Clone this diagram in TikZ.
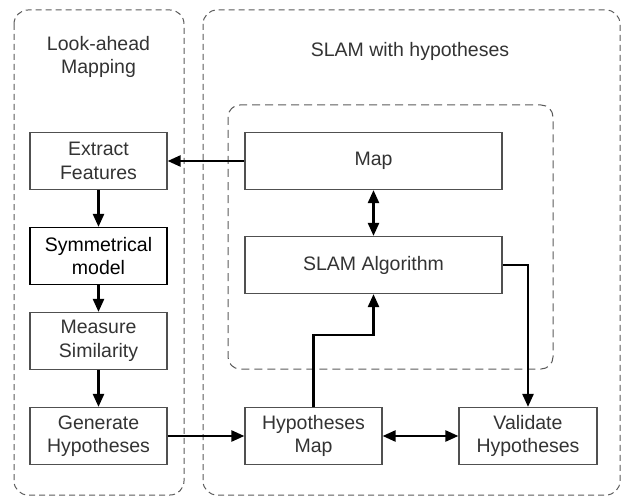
\documentclass[tikz,border=0pt]{standalone}
\usepackage[svgnames]{xcolor}
\usepackage{fontspec}
\setmainfont{Liberation Sans}
\usepackage{tikz}
\usetikzlibrary{arrows.meta}
\usetikzlibrary{positioning,calc}
\definecolor{boxgray}{HTML}{505050}
\definecolor{txtgray}{HTML}{333333}
\definecolor{dashgray}{HTML}{5A5A5A}
\tikzstyle{Block}=[rectangle,draw=boxgray,line width=1.2pt,text=txtgray,align=center,minimum width=137pt,minimum height=57pt,inner sep=0pt,font=\fontsize{19.5}{23.5}\selectfont]
\tikzset{flow/.style={-{Triangle[length=13pt,width=11pt]},line width=2.4pt,black},
  biflow/.style={{Triangle[length=13pt,width=11pt]}-{Triangle[length=13pt,width=11pt]},line width=2.4pt,black}
}

\begin{document}
\begin{tikzpicture}[x=1pt,y=-1pt]
		\tikzstyle{Group}=[draw=dashgray,line width=1pt,rounded corners=14pt,dash pattern=on 6pt off 4pt]
		\tikzstyle{Title}=[text=txtgray,align=center,font=\fontsize{19.5}{23.5}\selectfont]

		\useasboundingbox (0,0) rectangle (623,497);

		\def\colX {98.5}
		\def\rightX {373.5}

		% frames
		\draw [Group] (14,10) rectangle (184,495);
		\draw [Group] (203,10) rectangle (620,495);
		\draw [Group,rounded corners=12pt,dash pattern=on 8pt off 5pt] (228,105) rectangle (553,369);

		\node [Title] (lookTitle) at (\colX,57) {Look-ahead\\Mapping};
		\node [Title] (slamTitle) at (410,51) {SLAM with hypotheses};

		% look-ahead column
		\foreach \nm/\txt/\y/\tc/\lc in {EF/{Extract\\Features}/161/txtgray/boxgray,
			SM/{Symmetrical\\model}/256/black/black,
			MS/{Measure\\Similarity}/341/txtgray/boxgray,
			GH/{Generate\\Hypotheses}/436/txtgray/boxgray}
		{
			\node [Block,draw=\lc,text=\tc] (\nm) at (\colX,\y) {\txt};
		}

		% slam side
		\node [Block,minimum width=257pt] (Map) at (\rightX,161) {Map};
		\node [Block,minimum width=257pt] (Algo) at (\rightX,265) {SLAM Algorithm};
		\node [Block] (HM) at (313.5,436) {Hypotheses\\Map};
		\node [Block,minimum width=138pt] (VH) at (528,436) {Validate\\Hypotheses};

		\draw [flow] (Map) -- (EF);
		\draw [flow] (EF) -- (SM);
		\draw [flow] (SM) -- (MS);
		\draw [flow] (MS) -- (GH);
		\draw [flow] (GH) -- (HM);
		\draw [biflow] (Map) -- (Algo);
		\draw [biflow] (HM) -- (VH);
		\draw [flow] (HM.north) -- ++(0,-72) -| (Algo.south);
		\draw [flow] (Algo.east) -| (VH.north);

\end{tikzpicture}
\end{document}
